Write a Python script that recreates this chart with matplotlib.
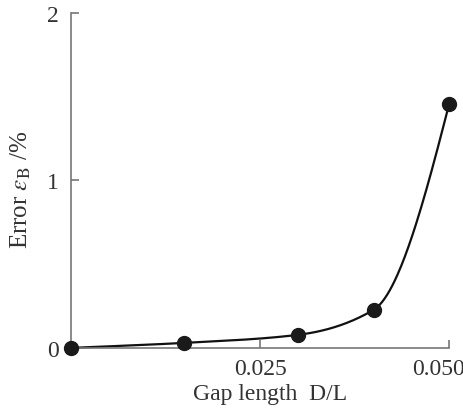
import numpy as np
import matplotlib
matplotlib.use("Agg")
import matplotlib.pyplot as plt
from matplotlib.transforms import ScaledTranslation

plt.rcParams['font.family'] = ['Liberation Serif', 'DejaVu Serif']
plt.rcParams['mathtext.fontset'] = 'stix'

gap = [0.0, 0.015, 0.030, 0.040, 0.050]
err = [0.0, 0.03, 0.078, 0.227, 1.457]
xticks = [0.025, 0.050]
xticklabels = ['0.025', '0.050']
yticks = [0, 1, 2]


def pchip(x, y, xn):
    x = np.asarray(x, float); y = np.asarray(y, float)
    h = np.diff(x); d = np.diff(y) / h
    n = len(x); m = np.zeros(n)
    for k in range(1, n - 1):
        if d[k - 1] * d[k] > 0:
            w1 = 2 * h[k] + h[k - 1]; w2 = h[k] + 2 * h[k - 1]
            m[k] = (w1 + w2) / (w1 / d[k - 1] + w2 / d[k])
    m[0] = d[0]; m[-1] = ((2 * h[-1] + h[-2]) * d[-1] - h[-1] * d[-2]) / (h[-1] + h[-2])
    if m[-1] * d[-1] < 0:
        m[-1] = 0
    out = np.empty_like(xn)
    for i, xv in enumerate(xn):
        k = min(np.searchsorted(x, xv, side='right') - 1, n - 2)
        t = (xv - x[k]) / h[k]
        h00 = 2 * t**3 - 3 * t**2 + 1; h10 = t**3 - 2 * t**2 + t
        h01 = -2 * t**3 + 3 * t**2; h11 = t**3 - t**2
        out[i] = h00 * y[k] + h10 * h[k] * m[k] + h01 * y[k + 1] + h11 * h[k] * m[k + 1]
    return out


fig = plt.figure(figsize=(4.64, 4.10), dpi=100)
ax = fig.add_axes([0.153, 0.149, 0.815, 0.817])

xs = np.linspace(gap[0], gap[-1], 300)
ax.plot(xs, pchip(gap, err, xs), color='#111111', lw=1.6, clip_on=False)
ax.plot(gap, err, 'o', color='#1a1a1a', ms=10, clip_on=False, zorder=5)

ax.set_xlim(0, 0.05)
ax.set_ylim(0, 2)
ax.set_xticks(xticks)
ax.set_xticklabels(xticklabels)
ax.set_yticks(yticks)
for s in ['top', 'right']:
    ax.spines[s].set_visible(False)
for s in ['left', 'bottom']:
    ax.spines[s].set_color('#777777')
    ax.spines[s].set_linewidth(1.2)
ax.tick_params(direction='in', length=6, width=1.2, color='#777777',
               labelsize=17, labelcolor='#333333', pad=7)
ax.tick_params(axis='y', pad=9)
# shift last x tick label left so it stays inside the figure
lbl = ax.get_xticklabels()[-1]
lbl.set_transform(lbl.get_transform() + ScaledTranslation(-11 / 100, 0, fig.dpi_scale_trans))

ax.set_xlabel('Gap length  D/L', fontsize=17, color='#333333')
ax.xaxis.set_label_coords(0.526, -0.105)
ax.set_ylabel(r'Error $\varepsilon_{\rm B}$ /%', fontsize=18, color='#333333')
ax.yaxis.set_label_coords(-0.10, 0.475)

fig.savefig('out.png', dpi=100)
